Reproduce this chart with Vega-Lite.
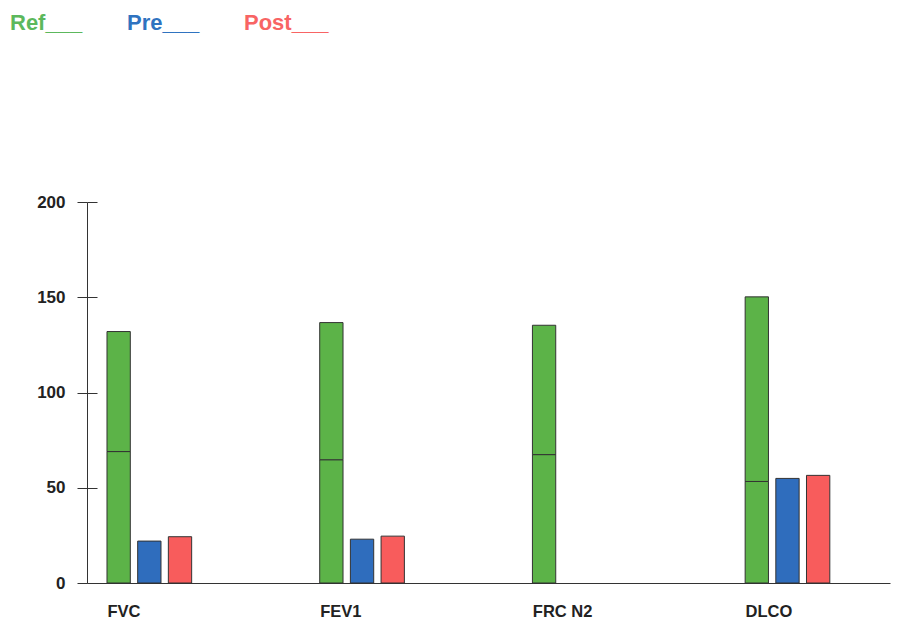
{
  "$schema": "https://vega.github.io/schema/vega-lite/v6.json",
  "autosize": "none",
  "width": 803,
  "height": 381,
  "padding": {"left": 87, "top": 202, "right": 9, "bottom": 36},
  "background": "white",
  "config": {
    "view": {"stroke": null},
    "font": "Liberation Sans"
  },
  "data": {
    "values": [
      {"test": "FVC", "series": "Ref", "start": 0, "end": 69},
      {"test": "FVC", "series": "Ref", "start": 69, "end": 132},
      {"test": "FVC", "series": "Pre", "start": 0, "end": 22},
      {"test": "FVC", "series": "Post", "start": 0, "end": 24.3},
      {"test": "FEV1", "series": "Ref", "start": 0, "end": 64.7},
      {"test": "FEV1", "series": "Ref", "start": 64.7, "end": 136.7},
      {"test": "FEV1", "series": "Pre", "start": 0, "end": 23},
      {"test": "FEV1", "series": "Post", "start": 0, "end": 24.6},
      {"test": "FRC N2", "series": "Ref", "start": 0, "end": 67.4},
      {"test": "FRC N2", "series": "Ref", "start": 67.4, "end": 135.3},
      {"test": "DLCO", "series": "Ref", "start": 0, "end": 53.3},
      {"test": "DLCO", "series": "Ref", "start": 53.3, "end": 150.2},
      {"test": "DLCO", "series": "Pre", "start": 0, "end": 54.9},
      {"test": "DLCO", "series": "Post", "start": 0, "end": 56.5}
    ]
  },
  "encoding": {
    "x": {
      "field": "test",
      "type": "nominal",
      "sort": ["FVC", "FEV1", "FRC N2", "DLCO"],
      "scale": {"paddingInner": 0.413, "paddingOuter": 0.094, "align": 0.5},
      "axis": {
        "title": null,
        "labelAngle": 0,
        "labelAlign": "left",
        "labelBaseline": "alphabetic",
        "labelOffset": -62,
        "ticks": false,
        "tickSize": 0,
        "labelPadding": 33,
        "labelFontSize": 16.5,
        "labelFontWeight": "bold",
        "labelColor": "#222222",
        "domainColor": "#333333",
        "domainWidth": 1
      }
    },
    "xOffset": {
      "field": "series",
      "type": "nominal",
      "sort": ["Ref", "Pre", "Post"],
      "scale": {"domain": ["Ref", "Pre", "Post"], "paddingInner": 0.24, "paddingOuter": 0.655, "align": 0}
    },
    "color": {
      "field": "series",
      "type": "nominal",
      "scale": {"domain": ["Ref", "Pre", "Post"], "range": ["#5cb348", "#2f6dbd", "#f85c5c"]},
      "legend": {
        "title": null,
        "orient": "none",
        "legendX": -99,
        "legendY": -190,
        "direction": "horizontal",
        "symbolSize": 0,
        "symbolStrokeWidth": 0,
        "symbolOpacity": 0,
        "labelOffset": 0,
        "columnPadding": 22,
        "labelFontSize": 22,
        "labelFontWeight": "bold",
        "labelColor": {"expr": "datum.value === 'Ref' ? '#5cb85c' : datum.value === 'Pre' ? '#2f73c0' : '#f86464'"},
        "labelExpr": "datum.label + '___'"
      }
    },
    "y2": {"field": "start"}
  },
  "layer": [
    {
      "transform": [{"filter": "datum.series === 'Ref'"}],
      "mark": {"type": "bar", "stroke": "#333333", "strokeWidth": 1},
      "encoding": {
        "y": {
          "field": "end",
          "type": "quantitative",
          "scale": {"domain": [0, 200], "nice": false},
          "axis": {
            "title": null,
            "orient": "left",
            "values": [0, 50, 100, 150, 200],
            "grid": false,
            "tickSize": 10,
            "labelPadding": 12,
            "labelFontSize": 17,
            "labelFontWeight": "bold",
            "labelColor": "#222222",
            "domainColor": "#333333",
            "tickColor": "#333333"
          }
        }
      }
    },
    {
      "transform": [{"filter": "datum.series !== 'Ref'"}],
      "mark": {"type": "bar", "stroke": "#333333", "strokeWidth": 1},
      "encoding": {
        "y": {
          "field": "end",
          "type": "quantitative",
          "scale": {"domain": [0, 200], "nice": false},
          "axis": {
            "title": null,
            "orient": "left",
            "values": [0, 50, 100, 150, 200],
            "grid": false,
            "labels": false,
            "domain": false,
            "tickSize": -10,
            "tickColor": "#333333"
          }
        }
      }
    }
  ],
  "resolve": {"axis": {"y": "independent"}}
}
